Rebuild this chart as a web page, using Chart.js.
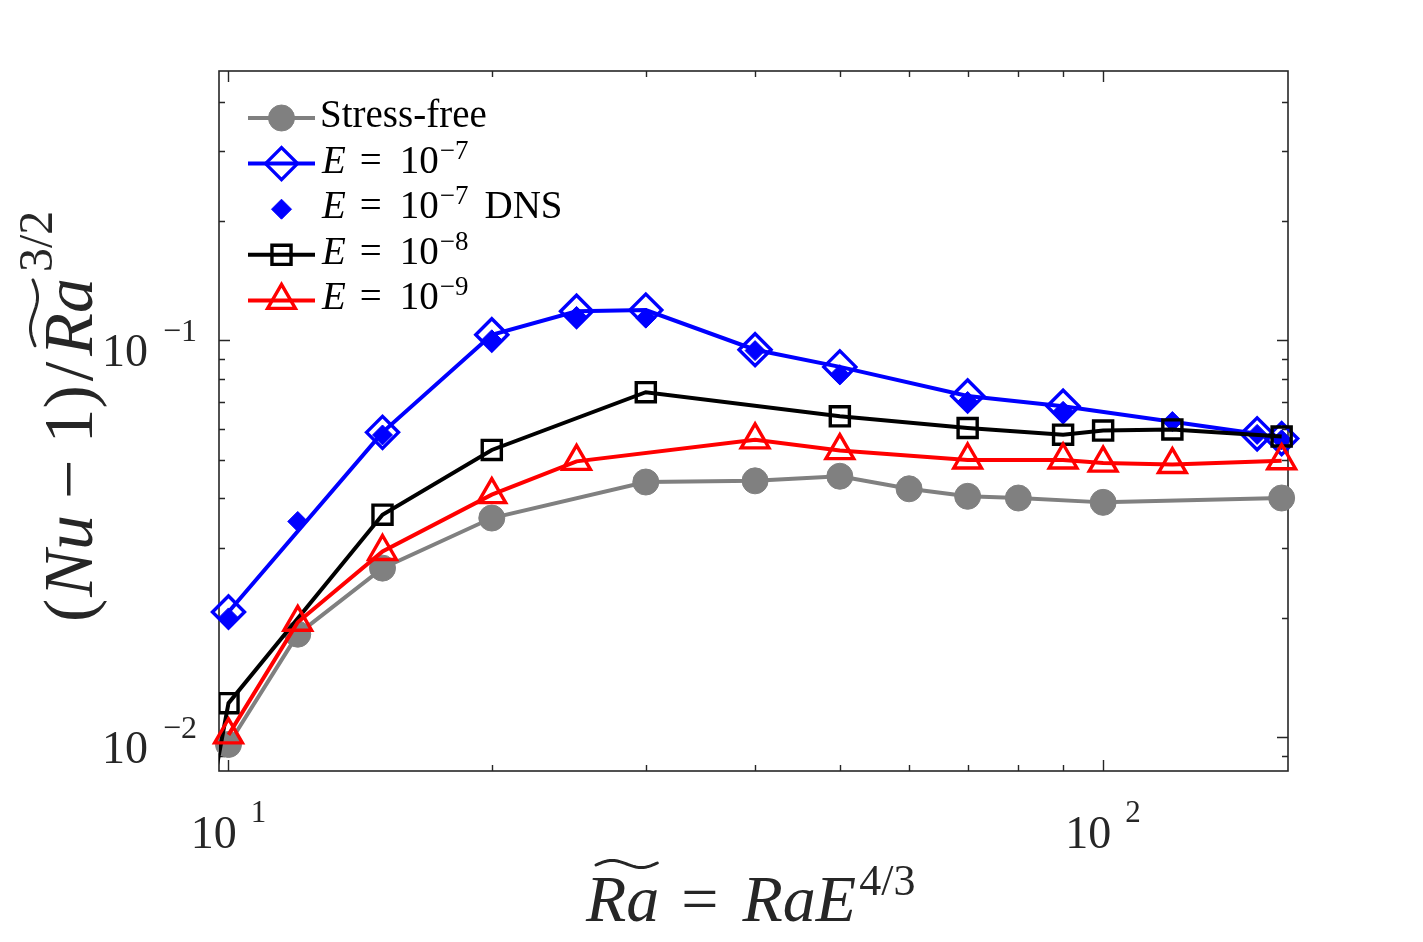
<!DOCTYPE html>
<html>
<head>
<meta charset="utf-8">
<script src="https://cdn.jsdelivr.net/npm/chart.js@4.4.0/dist/chart.umd.min.js"></script>
<style>
html,body{margin:0;padding:0;background:#ffffff;}
#wrap{width:1423px;height:942px;position:relative;}
</style>
</head>
<body>
<div id="wrap"><canvas id="c" width="1423" height="942"></canvas></div>
<script>
// ---------------- data ----------------
const sfX  = [10, 12, 15, 20, 30, 40, 50, 60, 70, 80, 100, 160];
const sfY  = [0.0096, 0.0182, 0.0267, 0.0357, 0.0440, 0.0443, 0.0455, 0.0423, 0.0405, 0.0401, 0.0391, 0.0401];

const e7X  = [10, 15, 20, 25, 30, 40, 50, 70, 90, 150, 160];
const e7Y  = [0.0207, 0.0587, 0.1034, 0.1185, 0.1193, 0.0948, 0.0858, 0.0725, 0.0683, 0.0582, 0.0566];

const dnsX = [10, 12, 15, 20, 25, 30, 40, 50, 70, 90, 120, 150, 160];
const dnsY = [0.0200, 0.0350, 0.0578, 0.1004, 0.1150, 0.1139, 0.0943, 0.0820, 0.0702, 0.0663, 0.0625, 0.0580, 0.0562];

const e8X  = [9.7, 10, 15, 20, 30, 50, 70, 90, 100, 120, 160];
const e8Y  = [0.0085, 0.0122, 0.0364, 0.0530, 0.0741, 0.0644, 0.0602, 0.0579, 0.0593, 0.0597, 0.0573];

const e9X  = [10, 12, 15, 20, 25, 40, 50, 70, 90, 100, 120, 160];
const e9Y  = [0.01015, 0.0195, 0.0294, 0.0409, 0.0496, 0.0562, 0.0528, 0.0500, 0.0500, 0.0491, 0.0487, 0.0498];

const seriesNames = ['Stress-free', 'E = 10^{-7}', 'E = 10^{-7} DNS', 'E = 10^{-8}', 'E = 10^{-9}'];

// tick values and labels (base 10 with exponent)
const xMajorTicks = [10, 100];
const xMajorExps  = ['1', '2'];
const xMinorTicks = [20, 30, 40, 50, 60, 70, 80, 90];
const yMajorTicks = [0.01, 0.1];
const yMajorExps  = ['-2', '-1'];
const yMinorTicks = [0.009, 0.02, 0.03, 0.04, 0.05, 0.06, 0.07, 0.08, 0.09, 0.2, 0.3, 0.4];

// ---------------- helpers ----------------
const SERIF = '"Liberation Serif", "Times New Roman", serif';
const AX = '#262626';
function pts(xs, ys) { return xs.map((x, i) => ({x: x, y: ys[i]})); }
function fnt(size, italic) { return (italic ? 'italic ' : '') + size + 'px ' + SERIF; }

function drawRuns(ctx, runs, x, baseline) {
  let cx = x;
  for (const r of runs) {
    cx += r.gap || 0;
    ctx.font = r.f;
    ctx.fillText(r.t, cx, baseline + (r.dy || 0));
    r.x0 = cx;
    r.w = ctx.measureText(r.t).width;
    cx += r.w;
  }
  return cx;
}
function drawTilde(ctx, x0, x1, yMid, amp, lw) {
  ctx.save();
  ctx.beginPath();
  const n = 40;
  for (let i = 0; i <= n; i++) {
    const t = i / n;
    const xx = x0 + (x1 - x0) * t;
    const yy = yMid - amp * Math.sin(2 * Math.PI * t) - amp * 0.5 * (t - 0.5);
    if (i === 0) ctx.moveTo(xx, yy); else ctx.lineTo(xx, yy);
  }
  ctx.lineWidth = lw;
  ctx.lineCap = 'round';
  ctx.lineJoin = 'round';
  ctx.stroke();
  ctx.restore();
}
function minusify(s) { return s.replace(/-/g, '\u2212'); }

function pointFallback(ctx, style, r, x, y, bw) {
  ctx.beginPath();
  if (style === 'circle') ctx.arc(x, y, r, 0, Math.PI * 2);
  else if (style === 'rectRot') { ctx.moveTo(x - r, y); ctx.lineTo(x, y - r); ctx.lineTo(x + r, y); ctx.lineTo(x, y + r); ctx.closePath(); }
  else if (style === 'rect') { const s = r * Math.SQRT1_2; ctx.rect(x - s, y - s, 2 * s, 2 * s); }
  else if (style === 'triangle') {
    let a = 0; ctx.moveTo(x + Math.sin(a) * r, y - Math.cos(a) * r);
    a += 2 * Math.PI / 3; ctx.lineTo(x + Math.sin(a) * r, y - Math.cos(a) * r);
    a += 2 * Math.PI / 3; ctx.lineTo(x + Math.sin(a) * r, y - Math.cos(a) * r);
    ctx.closePath();
  }
  ctx.fill();
  if (bw > 0) ctx.stroke();
}

// hide markers whose x lies outside the axis range (line still reaches the axis edge)
function radiusInside(r) {
  return (c) => {
    const xs = c.chart.scales.x;
    return (c.raw && xs && c.raw.x < xs.min) ? 0 : r;
  };
}

// ---------------- datasets ----------------
const BLUE = '#0000ff', RED = '#ff0000', GRAY = '#808080', BLACK = '#000000', NONE = 'rgba(0,0,0,0)';
const LW = 4;
const MW = 3.4;
const datasets = [
  {label: seriesNames[0], data: pts(sfX, sfY), borderColor: GRAY, backgroundColor: GRAY, borderWidth: LW,
   pointStyle: 'circle', pointRadius: 13, pointBorderWidth: 1, pointBackgroundColor: GRAY, pointBorderColor: GRAY,
   showLine: true, clip: false, order: 5},
  {label: seriesNames[1], data: pts(e7X, e7Y), borderColor: BLUE, backgroundColor: NONE, borderWidth: LW,
   pointStyle: 'rectRot', pointRadius: 16, pointBorderWidth: MW, pointBackgroundColor: NONE, pointBorderColor: BLUE,
   showLine: true, clip: false, order: 4},
  {label: seriesNames[2], data: pts(dnsX, dnsY), borderColor: BLUE, backgroundColor: BLUE, borderWidth: 0,
   pointStyle: 'rectRot', pointRadius: 10, pointBorderWidth: 1, pointBackgroundColor: BLUE, pointBorderColor: BLUE,
   showLine: false, clip: false, order: 3},
  {label: seriesNames[3], data: pts(e8X, e8Y), borderColor: BLACK, backgroundColor: NONE, borderWidth: LW,
   pointStyle: 'rect', pointRadius: radiusInside(13.5), pointBorderWidth: MW, pointBackgroundColor: NONE, pointBorderColor: BLACK,
   showLine: true, clip: {left: 0, top: false, right: false, bottom: false}, order: 2},
  {label: seriesNames[4], data: pts(e9X, e9Y), borderColor: RED, backgroundColor: NONE, borderWidth: LW,
   pointStyle: 'triangle', pointRadius: 16, pointBorderWidth: MW, pointBackgroundColor: NONE, pointBorderColor: RED,
   showLine: true, clip: false, order: 1}
];
const legendRadius = [13, 16, 10, 13.5, 16];

// ---------------- decoration plugin (axes box, inward ticks, labels, legend) ----------------
const decor = {
  id: 'decor',
  beforeDatasetsDraw(chart) {
    const ctx = chart.ctx, a = chart.chartArea;
    const xs = chart.scales.x, ys = chart.scales.y;
    ctx.save();
    ctx.strokeStyle = AX;
    ctx.lineWidth = 1.6;
    ctx.strokeRect(a.left, a.top, a.right - a.left, a.bottom - a.top);
    ctx.lineWidth = 1.4;
    const tickX = (v, len) => {
      const p = Math.round(xs.getPixelForValue(v)) + 0.5;
      ctx.beginPath(); ctx.moveTo(p, a.bottom); ctx.lineTo(p, a.bottom - len);
      ctx.moveTo(p, a.top); ctx.lineTo(p, a.top + len); ctx.stroke();
    };
    const tickY = (v, len) => {
      const p = Math.round(ys.getPixelForValue(v)) + 0.5;
      ctx.beginPath(); ctx.moveTo(a.left, p); ctx.lineTo(a.left + len, p);
      ctx.moveTo(a.right, p); ctx.lineTo(a.right - len, p); ctx.stroke();
    };
    xMajorTicks.forEach(v => tickX(v, 11));
    xMinorTicks.forEach(v => tickX(v, 6));
    yMajorTicks.forEach(v => tickY(v, 11));
    yMinorTicks.forEach(v => tickY(v, 6));
    ctx.restore();
  },
  afterDraw(chart) {
    const ctx = chart.ctx, a = chart.chartArea;
    const xs = chart.scales.x, ys = chart.scales.y;
    ctx.save();
    ctx.fillStyle = AX;
    ctx.strokeStyle = AX;
    ctx.textBaseline = 'alphabetic';
    ctx.textAlign = 'left';

    // x tick labels: 10^n
    xMajorTicks.forEach((v, i) => {
      const p = xs.getPixelForValue(v);
      ctx.font = fnt(46, false); const w1 = ctx.measureText('10').width;
      ctx.font = fnt(31, false); const w2 = ctx.measureText(minusify(xMajorExps[i])).width;
      const gap = 14;
      const x0 = p - (w1 + gap + w2) / 2;
      drawRuns(ctx, [
        {t: '10', f: fnt(46, false)},
        {t: minusify(xMajorExps[i]), f: fnt(31, false), gap: gap, dy: -26}
      ], x0, a.bottom + 77);
    });

    // y tick labels: 10^n, right aligned
    yMajorTicks.forEach((v, i) => {
      const p = ys.getPixelForValue(v);
      ctx.font = fnt(46, false); const w1 = ctx.measureText('10').width;
      ctx.font = fnt(32, false); const w2 = ctx.measureText(minusify(yMajorExps[i])).width;
      const gap = 15;
      const right = 197;
      drawRuns(ctx, [
        {t: '10', f: fnt(46, false)},
        {t: minusify(yMajorExps[i]), f: fnt(32, false), gap: gap, dy: -25}
      ], right - (w1 + gap + w2), p + 26);
    });

    // x axis title: Ra~ = Ra E^{4/3}
    const xr = [
      {t: 'R', f: fnt(66, true)},
      {t: 'a', f: fnt(66, true)},
      {t: '=', f: fnt(66, false), gap: 22},
      {t: 'R', f: fnt(66, true), gap: 24},
      {t: 'a', f: fnt(66, true)},
      {t: 'E', f: fnt(66, true)},
      {t: '4/3', f: fnt(44, false), gap: 3, dy: -26}
    ];
    drawRuns(ctx, xr, 586, 921);
    drawTilde(ctx, xr[0].x0 + 10, xr[1].x0 + xr[1].w - 2, 864, 4, 3);

    // y axis title (rotated): (Nu - 1)/Ra~^{3/2}
    ctx.save();
    ctx.translate(92, 622);
    ctx.rotate(-Math.PI / 2);
    const yr = [
      {t: '(', f: fnt(70, false)},
      {t: 'N', f: fnt(70, true), gap: 2},
      {t: 'u', f: fnt(70, true)},
      {t: '\u2212', f: fnt(70, false), gap: 16},
      {t: '1', f: fnt(70, false), gap: 16},
      {t: ')', f: fnt(70, false)},
      {t: '/', f: fnt(70, false), gap: 4},
      {t: 'R', f: fnt(70, true), gap: 6},
      {t: 'a', f: fnt(70, true)},
      {t: '3/2', f: fnt(48, false), gap: 6, dy: -40}
    ];
    drawRuns(ctx, yr, 0, 0);
    drawTilde(ctx, yr[7].x0 + 10, yr[8].x0 + yr[8].w - 2, -58, 4, 3);
    ctx.restore();

    // legend
    const rowY0 = 118, rowDy = 45.6, lineX0 = 248, lineX1 = 315, mX = 281.5, textX = 322;
    chart.data.datasets.forEach((ds, i) => {
      const cy = rowY0 + rowDy * i;
      ctx.save();
      if (ds.showLine) {
        ctx.strokeStyle = ds.borderColor; ctx.lineWidth = ds.borderWidth;
        ctx.beginPath(); ctx.moveTo(lineX0, cy); ctx.lineTo(lineX1, cy); ctx.stroke();
      }
      ctx.fillStyle = ds.pointBackgroundColor; ctx.strokeStyle = ds.pointBorderColor; ctx.lineWidth = ds.pointBorderWidth;
      const opts = {pointStyle: ds.pointStyle, radius: legendRadius[i], rotation: 0, borderWidth: ds.pointBorderWidth};
      if (Chart.helpers && Chart.helpers.drawPoint) Chart.helpers.drawPoint(ctx, opts, mX, cy);
      else pointFallback(ctx, ds.pointStyle, legendRadius[i], mX, cy, ds.pointBorderWidth);
      ctx.restore();

      ctx.fillStyle = '#000000';
      const label = ds.label;
      const m = label.match(/^E = 10\^\{(.+?)\}(.*)$/);
      const base = cy + 9;
      if (m) {
        const runs = [
          {t: 'E', f: fnt(39, true)},
          {t: '=', f: fnt(39, false), gap: 14},
          {t: '10', f: fnt(39, false), gap: 18},
          {t: minusify(m[1]), f: fnt(27, false), gap: 1, dy: -14}
        ];
        if (m[2].trim()) runs.push({t: m[2].trim(), f: fnt(39, false), gap: 16});
        drawRuns(ctx, runs, textX, base);
      } else {
        drawRuns(ctx, [{t: label, f: fnt(39, false)}], textX - 2, base);
      }
    });
    ctx.restore();
  }
};

new Chart(document.getElementById('c'), {
  type: 'line',
  data: {datasets: datasets},
  options: {
    responsive: false,
    animation: false,
    layout: {padding: {left: 219, right: 135, top: 71, bottom: 171}},
    plugins: {legend: {display: false}, tooltip: {enabled: false}, title: {display: false}},
    elements: {line: {tension: 0}},
    scales: {
      x: {type: 'logarithmic', min: 9.753, max: 162.7, display: false},
      y: {type: 'logarithmic', min: 0.00823, max: 0.4775, display: false}
    }
  },
  plugins: [decor]
});
</script>
</body>
</html>
